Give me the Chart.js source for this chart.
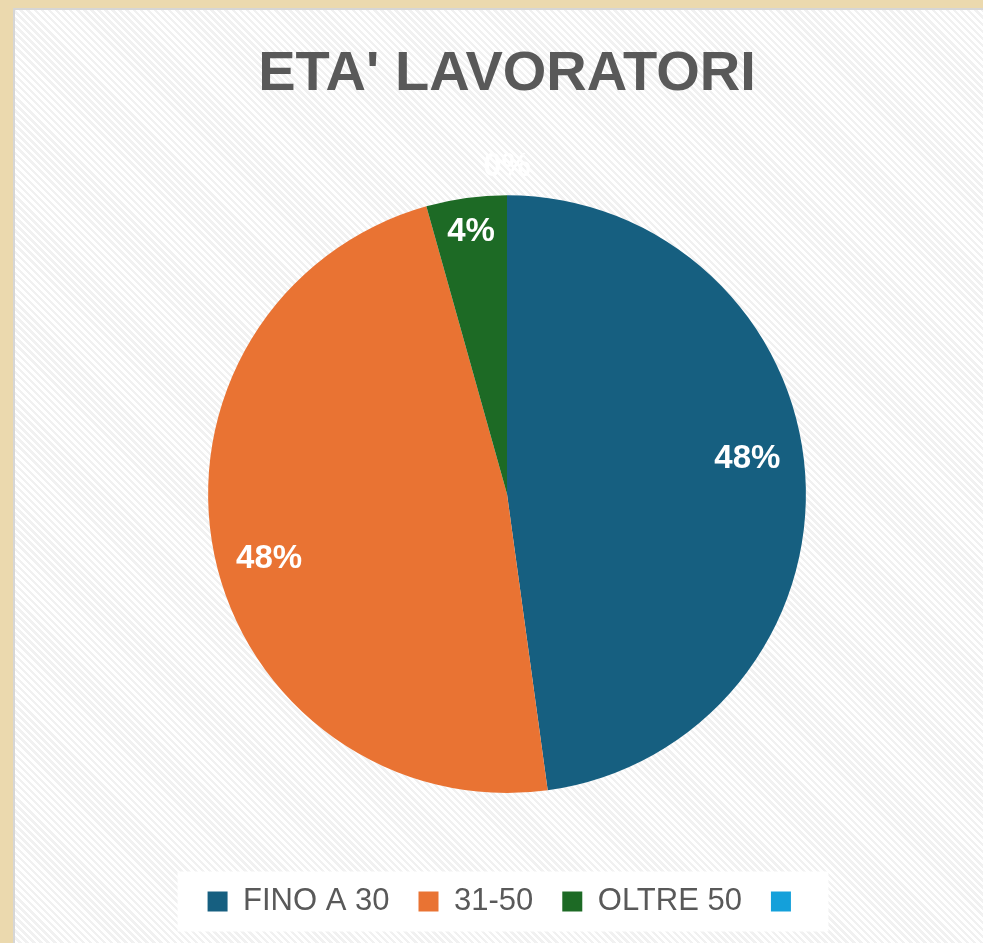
<!DOCTYPE html>
<html>
<head>
<meta charset="utf-8">
<script src="https://cdn.jsdelivr.net/npm/chart.js@4"></script>
<style>
  html, body { margin: 0; padding: 0; width: 983px; height: 943px; overflow: hidden; }
  body { background: #EBD9AE; position: relative; }
  #panel {
    position: absolute; left: 13px; top: 8px; right: 0; bottom: 0;
    border-left: 2px solid #D6D6D6; border-top: 2px solid #D6D6D6;
    background: repeating-linear-gradient(45deg, #FFFFFF 0px, #FFFFFF 2.5px, #F1F1F1 2.5px, #F1F1F1 5px);
  }
  #wrap { position: absolute; left: 15px; top: 11px; width: 968px; height: 932px; }
</style>
</head>
<body>
<div id="panel"></div>
<div id="wrap"><canvas id="c"></canvas></div>
<script>
const titleText = "ETA' LAVORATORI";
const categories = ["FINO A 30", "31-50", "OLTRE 50", ""];
const workers = [11, 11, 1, 0];
const sliceColors = ["#165F80", "#E97333", "#1D6A25", "#14A0DA"];

const FONT = "'Liberation Sans', Arial, sans-serif";

const sliceLabels = {
  id: 'sliceLabels',
  afterDatasetsDraw(chart, args, opts) {
    const meta = chart.getDatasetMeta(0);
    const data = chart.data.datasets[0].data;
    const total = data.reduce((a, b) => a + b, 0);
    const ctx = chart.ctx;
    ctx.save();
    ctx.font = 'bold ' + opts.size + 'px ' + FONT;
    ctx.fillStyle = opts.color;
    ctx.textAlign = 'center';
    ctx.textBaseline = 'middle';
    meta.data.forEach((arc, i) => {
      const p = arc.getProps(['x', 'y', 'startAngle', 'endAngle', 'outerRadius'], true);
      const pl = opts.placement[i] || [0.8, 0];
      const a = (p.startAngle + p.endAngle) / 2 + pl[1] * Math.PI / 180;
      const tx = p.x + Math.cos(a) * p.outerRadius * pl[0];
      const ty = p.y + Math.sin(a) * p.outerRadius * pl[0];
      ctx.fillText(Math.round(data[i] / total * 100) + '%', tx, ty);
    });
    ctx.restore();
  }
};

const legendBg = {
  id: 'legendBg',
  beforeDraw(chart, args, opts) {
    const lg = chart.legend;
    if (!lg || !lg.legendHitBoxes || !lg.legendHitBoxes.length) return;
    const hb = lg.legendHitBoxes;
    const first = hb[0], last = hb[hb.length - 1];
    const cy = first.top + first.height / 2;
    const ctx = chart.ctx;
    ctx.save();
    ctx.fillStyle = opts.color;
    const x0 = first.left - opts.padLeft;
    const x1 = last.left + last.width + opts.padRight;
    ctx.fillRect(x0, cy - opts.halfHeight, x1 - x0, opts.halfHeight * 2);
    ctx.restore();
  }
};

new Chart(document.getElementById('c'), {
  type: 'pie',
  data: {
    labels: categories,
    datasets: [{
      data: workers,
      backgroundColor: sliceColors,
      borderWidth: 0
    }]
  },
  plugins: [sliceLabels, legendBg],
  options: {
    responsive: true,
    maintainAspectRatio: false,
    animation: false,
    layout: { padding: { left: 16, right: 0, top: 0, bottom: 16 } },
    plugins: {
      title: {
        display: true,
        text: titleText,
        color: '#595959',
        font: { family: FONT, size: 56, weight: 'bold', lineHeight: 1.2 },
        padding: { top: 30, bottom: 87 }
      },
      subtitle: {
        display: true,
        text: '',
        position: 'bottom',
        weight: 500,
        font: { size: 1, lineHeight: 1 },
        padding: { top: 63, bottom: 0 }
      },
      legend: {
        position: 'bottom',
        labels: {
          color: '#595959',
          font: { family: FONT, size: 31 },
          boxWidth: 20,
          boxHeight: 20,
          padding: 29
        }
      },
      tooltip: { enabled: false },
      sliceLabels: {
        size: 33,
        color: '#FFFFFF',
        placement: [[0.813, -4.5], [0.825, -3.5], [0.885, 0], [1.095, 0]]
      },
      legendBg: { color: '#FFFFFF', padLeft: 30, padRight: 22, halfHeight: 30 }
    }
  }
});
</script>
</body>
</html>
